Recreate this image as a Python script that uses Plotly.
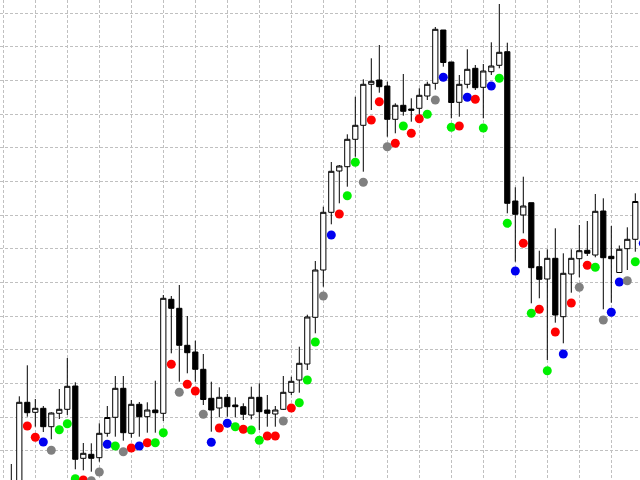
import plotly.graph_objects as go

# Candle index (one bar per period)
idx = list(range(80))

# Prices (arbitrary chart units, higher = up)
opens = [-5, -20, 77.7, 67.7, 71.7, 53.3, 66.7, 70.7, 94, 21.7,
         25.7, 22.3, 46.7, 62.7, 91.7, 46.7, 75.7, 63.3, 70, 66.7,
         180.7, 171.7, 134.7, 128, 110.7, 81.7, 72, 82.7, 75, 73.3,
         65, 82.7, 70, 66, 70.7, 87.7, 100, 116, 162.7, 210,
         267.7, 309, 313.3, 340.7, 354.7, 395.7, 400, 394, 360.7, 374.7,
         371, 371.7, 384, 396.7, 450, 418, 377.7, 395.7, 411.7, 392.7,
         408.3, 414.7, 428.3, 279, 265, 277.3, 213.3, 201, 221.7, 163.3,
         206, 221.3, 229.7, 225, 269, 223.7, 207.5, 231.3, 240.7, 240]
highs = [16, 83.7, 114.7, 81, 74, 67.7, 91, 122, 97.7, 37,
         36.7, 56.7, 74, 104, 104, 80, 78, 77.7, 99.3, 185,
         184, 195, 164, 139.3, 126, 98.3, 92.7, 86, 82.7, 76.7,
         93.3, 96.7, 85, 74, 104, 103.3, 133.3, 165.3, 219, 273.3,
         318, 315, 345.7, 383.3, 400.7, 421.7, 435, 398.3, 376.7, 406,
         381.7, 391.7, 398.3, 453, 450, 418, 405, 430.7, 415, 416,
         437.7, 476, 437.3, 292.7, 303.3, 277.3, 229.3, 230.7, 251.7, 226.7,
         230.7, 255, 259, 286, 281.7, 254, 234.5, 252.7, 286.7, 250]
lows = [-22, -28, 63.3, 53.3, 48, 40.7, 61, 65, 10.7, 9.7,
        8.3, 18.3, 43.3, 43.3, 39.3, 42.3, 43.3, 47.3, 47.3, 59,
        126.7, 98.3, 106.7, 98.3, 75, 48.3, 62.7, 63.3, 62.7, 60,
        60.7, 50, 53.3, 53.3, 70, 85, 87.3, 110, 146.7, 193.3,
        255.7, 276.7, 293.3, 323.3, 308.3, 370, 387.3, 343.3, 346.7, 364.3,
        358.3, 365, 380, 390.3, 413.3, 361.7, 363.3, 391.7, 390, 361.7,
        405, 411.7, 266.7, 218.3, 246.7, 176.7, 181.7, 120, 157.3, 136.7,
        187.3, 202.7, 224, 222.7, 170.7, 177.3, 207.3, 210, 228.3, 235]
closes = [-15, 77.7, 67.3, 71.7, 53.3, 67, 70.7, 93.7, 20.7, 26.7,
          21.7, 46.7, 62.5, 91.7, 47.3, 75.7, 63.3, 70, 67.3, 181.7,
          171.7, 134.7, 127.3, 110.7, 80.5, 70, 82.7, 73.3, 73.3, 65.7,
          82.7, 68.3, 66.7, 70, 87.7, 98.7, 116.7, 163, 210, 267.7,
          308.7, 314, 340.7, 354.7, 395.7, 398.7, 393.3, 360.7, 374.7, 368.7,
          369.7, 384.7, 395.7, 450.7, 417.5, 377.5, 395.7, 410.7, 392.3, 409,
          414, 427.7, 276.7, 265.7, 274, 212.3, 200.7, 221.7, 165, 206.7,
          221.7, 229.3, 226.7, 268.7, 222.3, 221.3, 230.7, 240.7, 278.5, 245]

# Indicator dots (one per candle)
dot_values = [None, None, 54, 42.7, 38, 29.7, 50.3, 56.3, 1.3, 0,
              -0.7, 8, 35.8, 34, 28.3, 32, 34, 37.3, 37.3, 47.3,
              115.7, 87.7, 95.7, 89, 65.7, 37.7, 52, 56.7, 53.3, 50.7,
              50, 39.7, 44, 44, 59, 72, 77.3, 100, 138, 184,
              245, 266, 284.3, 317.7, 297.7, 360, 378.2, 333.3, 336.7, 354,
              346.7, 361.3, 365.7, 380, 402.7, 352.7, 354, 382.7, 380.7, 352,
              394, 401.7, 256.7, 209, 236.7, 166.7, 170.7, 109.3, 148, 126,
              177, 192.7, 214.7, 212.7, 160, 167.7, 198, 199.3, 218.3, 236.7]
dot_states = ["none", "none", "red", "red", "blue", "gray", "green", "green", "green", "red",
              "gray", "gray", "blue", "green", "gray", "red", "blue", "red", "green", "green",
              "red", "gray", "red", "red", "gray", "blue", "red", "blue", "green", "red",
              "green", "green", "red", "red", "gray", "red", "green", "green", "green", "gray",
              "blue", "red", "green", "green", "gray", "red", "red", "gray", "red", "green",
              "red", "red", "green", "gray", "blue", "green", "red", "blue", "red", "green",
              "blue", "green", "green", "blue", "red", "green", "red", "green", "red", "blue",
              "red", "gray", "red", "green", "gray", "blue", "blue", "gray", "green", "blue"]

palette = {"red": "#FF0000", "green": "#00F000", "blue": "#0000F0",
           "gray": "#808080", "none": "#FFFFFF"}

fig = go.Figure()
fig.add_trace(go.Candlestick(
    x=idx, open=opens, high=highs, low=lows, close=closes,
    increasing=dict(fillcolor="#FFFFFF", line=dict(color="#000000", width=1)),
    decreasing=dict(fillcolor="#000000", line=dict(color="#000000", width=1)),
    whiskerwidth=0, showlegend=False, hoverinfo="skip",
))
fig.add_trace(go.Scatter(
    x=idx, y=dot_values, mode="markers",
    marker=dict(size=9, color=[palette[s] for s in dot_states], line=dict(width=0)),
    showlegend=False, hoverinfo="skip",
))

fig.update_layout(
    width=640, height=480,
    margin=dict(l=0, r=0, t=0, b=0),
    paper_bgcolor="#FFFFFF", plot_bgcolor="#FFFFFF",
    boxgap=0.35, boxgroupgap=0,
    xaxis=dict(range=[-1.4125, 78.5875], showticklabels=False, zeroline=False,
               showline=False, showgrid=True, gridcolor="#C0C0C0", griddash="3px,2px",
               gridwidth=1, tick0=-1, dtick=4, rangeslider=dict(visible=False),
               fixedrange=True),
    yaxis=dict(range=[0, 480], showticklabels=False, zeroline=False, showline=False,
               showgrid=True, gridcolor="#C0C0C0", griddash="3px,2px", gridwidth=1,
               tick0=29.3, dtick=33.65, fixedrange=True),
)

fig.write_html(
    "out.html",
    config={"displayModeBar": False, "staticPlot": True},
    post_script="document.body.style.margin='0px';document.body.style.overflow='hidden';",
)
